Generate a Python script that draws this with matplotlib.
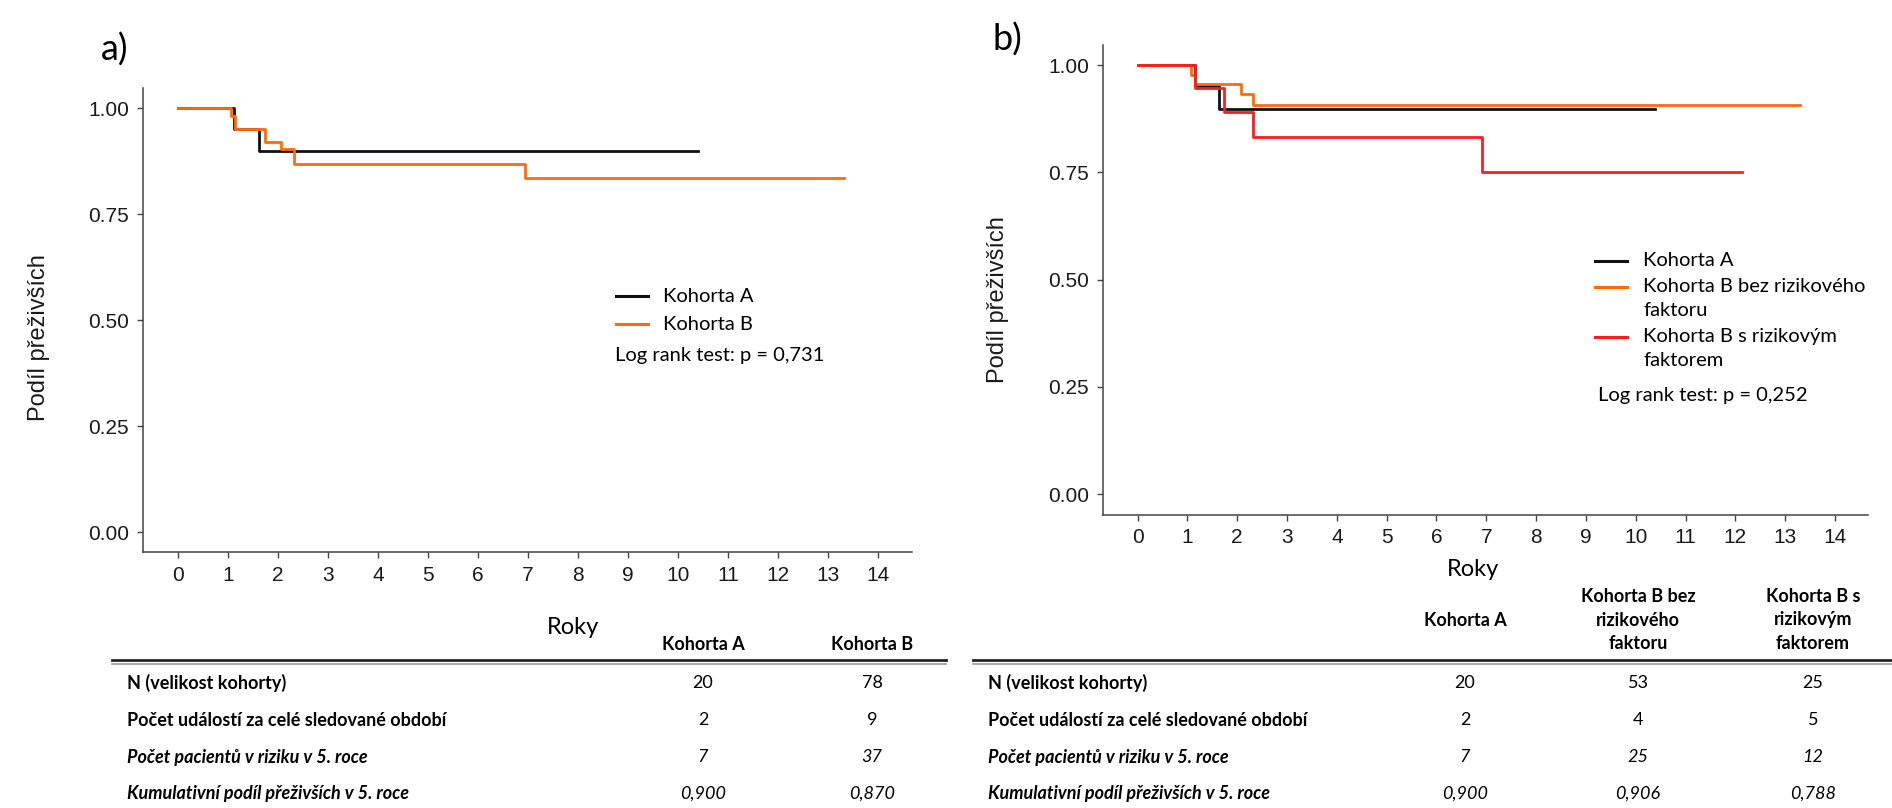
import matplotlib
matplotlib.use("Agg")
import matplotlib.pyplot as plt
from matplotlib.lines import Line2D

W, H = 1892, 808

# --- data ---
years = list(range(0, 15))
yticks = [0.0, 0.25, 0.5, 0.75, 1.0]

# panel a)
a_kohA_t = [0, 1.13, 1.63, 10.39]
a_kohA_s = [1.0, 0.95, 0.90, 0.90]
a_kohB_t = [0, 1.06, 1.15, 1.74, 2.07, 2.32, 6.93, 13.31]
a_kohB_s = [1.0, 0.982, 0.95, 0.921, 0.903, 0.868, 0.835, 0.835]

# panel b)
b_kohA_t = [0, 1.15, 1.63, 10.39]
b_kohA_s = [1.0, 0.95, 0.897, 0.897]
b_bez_t = [0, 1.08, 1.15, 2.07, 2.32, 13.3]
b_bez_s = [1.0, 0.977, 0.955, 0.932, 0.906, 0.906]
b_s_t = [0, 1.15, 1.74, 2.32, 6.91, 12.13]
b_s_s = [1.0, 0.947, 0.89, 0.833, 0.75, 0.75]

row_labels = ["N (velikost kohorty)",
              "Počet událostí za celé sledované období",
              "Počet pacientů v riziku v 5. roce",
              "Kumulativní podíl přeživších v 5. roce"]
tab_a_cols = ["Kohorta A", "Kohorta B"]
tab_a_vals = [["20", "78"], ["2", "9"], ["7", "37"], ["0,900", "0,870"]]
tab_b_cols = ["Kohorta A", "Kohorta B bez\nrizikového\nfaktoru",
              "Kohorta B s\nrizikovým\nfaktorem"]
tab_b_vals = [["20", "53", "25"], ["2", "4", "5"], ["7", "25", "12"],
              ["0,900", "0,906", "0,788"]]

BLACK = "#111111"
ORANGE = "#ff6b0f"
RED = "#ff1c1c"

CAL = ["Lato", "DejaVu Sans"]
NARROW = ["Liberation Sans Narrow", "Liberation Sans", "DejaVu Sans"]
ARIAL = ["Liberation Sans", "DejaVu Sans"]


def fx(px):
    return px / W


def fy(py):
    return 1 - py / H


def make_axes(fig, x0, x1, ytop, ybot, ylim):
    ax = fig.add_axes([fx(x0), fy(ybot), (x1 - x0) / W, (ybot - ytop) / H])
    ax.set_xlim(-0.7, 14.67)
    ax.set_ylim(*ylim)
    for s in ["top", "right"]:
        ax.spines[s].set_visible(False)
    for s in ["left", "bottom"]:
        ax.spines[s].set_color("#444444")
        ax.spines[s].set_linewidth(1.1)
    ax.set_xticks(years)
    ax.set_yticks(yticks)
    ax.set_yticklabels(["%.2f" % v for v in yticks])
    ax.tick_params(length=4, width=1, color="#444444", labelsize=15, pad=6,
                   labelcolor="#1a1a1a")
    for lab in ax.get_xticklabels() + ax.get_yticklabels():
        lab.set_family(NARROW)
    return ax


fig = plt.figure(figsize=(W / 100, H / 100), dpi=100)

# ---------- panel a ----------
ax1 = make_axes(fig, 142.7, 912, 87.7, 552, (-0.047, 1.0486))
ax1.step(a_kohA_t, a_kohA_s, where="post", color=BLACK, lw=2)
ax1.step(a_kohB_t, a_kohB_s, where="post", color=ORANGE, lw=2)

fig.text(fx(115), fy(50), "a)", fontsize=26, family=CAL, ha="center", va="center")
fig.text(fx(39), fy(338), "Podíl přeživších", fontsize=17, family=ARIAL,
         rotation=90, ha="center", va="center", color="#1a1a1a")
fig.text(fx(573), fy(627), "Roky", fontsize=17, family=CAL, ha="center", va="center")

fig.add_artist(Line2D([fx(616), fx(648)], [fy(296), fy(296)], color=BLACK, lw=2.2))
fig.add_artist(Line2D([fx(616), fx(648)], [fy(324), fy(324)], color=ORANGE, lw=2.2))
fig.text(fx(663), fy(296), "Kohorta A", fontsize=14.5, family=CAL, va="center")
fig.text(fx(663), fy(324), "Kohorta B", fontsize=14.5, family=CAL, va="center")
fig.text(fx(615), fy(355), "Log rank test: p = 0,731", fontsize=14.5, family=CAL,
         va="center")

# ---------- panel b ----------
ax2 = make_axes(fig, 1102.7, 1868.4, 45.4, 514.6, (-0.0475, 1.0457))
ax2.step(b_kohA_t, b_kohA_s, where="post", color=BLACK, lw=2)
ax2.step(b_bez_t, b_bez_s, where="post", color=ORANGE, lw=2)
ax2.step(b_s_t, b_s_s, where="post", color=RED, lw=2)

fig.text(fx(1007), fy(40), "b)", fontsize=26, family=CAL, ha="center", va="center")
fig.text(fx(998), fy(300), "Podíl přeživších", fontsize=17, family=ARIAL,
         rotation=90, ha="center", va="center", color="#1a1a1a")
fig.text(fx(1473), fy(570), "Roky", fontsize=17, family=CAL, ha="center", va="center")

leg_items = [(BLACK, 261, "Kohorta A"),
             (ORANGE, 287, "Kohorta B bez rizikového\nfaktoru"),
             (RED, 337, "Kohorta B s rizikovým\nfaktorem")]
for col, yy, lab in leg_items:
    fig.add_artist(Line2D([fx(1595), fx(1627)], [fy(yy), fy(yy)], color=col, lw=2.2))
    fig.text(fx(1643), fy(yy - 9), lab, fontsize=14.5, family=CAL, va="top",
             linespacing=1.5)
fig.text(fx(1598), fy(395), "Log rank test: p = 0,252", fontsize=14.5, family=CAL,
         va="center")

# ---------- tables ----------
row_y = [683, 720, 757, 794]


def draw_table(x_line0, x_line1, x_lab, col_x, head_y, cols, vals):
    fig.add_artist(Line2D([fx(x_line0), fx(x_line1)], [fy(660), fy(660)],
                          color="#222222", lw=2))
    fig.add_artist(Line2D([fx(x_line0), fx(x_line1)], [fy(663.5), fy(663.5)],
                          color="#999999", lw=1.2))
    for cx, c in zip(col_x, cols):
        fig.text(fx(cx), fy(head_y), c, fontsize=13, family=CAL, weight="bold",
                 ha="center", va="center", linespacing=1.45)
    for i, (lab, ry) in enumerate(zip(row_labels, row_y)):
        style = "italic" if i >= 2 else "normal"
        fig.text(fx(x_lab), fy(ry), lab, fontsize=13, family=CAL, weight="bold",
                 style=style, va="center")
        for cx, v in zip(col_x, vals[i]):
            fig.text(fx(cx), fy(ry), v, fontsize=13, family=CAL, style=style,
                     ha="center", va="center")


draw_table(112, 946, 127, [703, 872], 645, tab_a_cols, tab_a_vals)
draw_table(973, 1892, 988, [1465, 1638, 1813], 620, tab_b_cols, tab_b_vals)

fig.savefig("out.png", dpi=100)
